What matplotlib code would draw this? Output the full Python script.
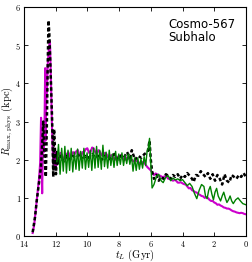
import numpy as np
import matplotlib
matplotlib.use("Agg")
import matplotlib.pyplot as plt

plt.rcParams['font.family'] = 'cmr10'
plt.rcParams['mathtext.fontset'] = 'cm'
plt.rcParams['axes.formatter.use_mathtext'] = True

# lookback time (Gyr) and R_max (kpc)
t_mag = [13.45, 13.35, 13.25, 13.15, 13.05, 12.98, 12.92, 12.88, 12.85, 12.80,
         12.75, 12.70, 12.66, 12.64, 12.60, 12.55, 12.50, 12.45, 12.40, 12.36,
         12.32, 12.28, 12.24, 12.20, 12.15, 12.10, 12.05, 12.00, 11.95, 11.90,
         11.80, 11.70, 11.60, 11.50, 11.40, 11.30, 11.20, 11.10, 11.00, 10.90,
         10.80, 10.70, 10.60, 10.50, 10.40, 10.30, 10.20, 10.10, 10.00, 9.90,
         9.80, 9.70, 9.60, 9.50, 9.40, 9.30, 9.20, 9.10, 9.00, 8.90,
         8.80, 8.70, 8.60, 8.50, 8.40, 8.30, 8.20, 8.10, 8.00, 7.90,
         7.80, 7.70, 7.60, 7.50, 7.40, 7.30, 7.20, 7.10, 7.00, 6.90,
         6.80, 6.70, 6.60, 6.50, 6.40, 6.30, 6.20, 6.10, 6.00, 5.90,
         5.80, 5.70, 5.60, 5.50, 5.40, 5.30, 5.20, 5.10, 5.00, 4.90,
         4.80, 4.70, 4.60, 4.50, 4.40, 4.30, 4.20, 4.10, 4.00, 3.90,
         3.80, 3.70, 3.60, 3.50, 3.40, 3.30, 3.20, 3.10, 3.00, 2.90,
         2.80, 2.70, 2.60, 2.50, 2.40, 2.30, 2.20, 2.10, 2.00, 1.90,
         1.80, 1.70, 1.60, 1.50, 1.40, 1.30, 1.20, 1.10, 1.00, 0.90,
         0.80, 0.70, 0.60, 0.50, 0.40, 0.30, 0.20, 0.10, 0.00]
r_mag = [0.08, 0.30, 0.70, 1.10, 1.50, 1.90, 3.10, 1.60, 1.12, 2.60,
         2.20, 3.00, 4.40, 2.50, 3.50, 3.80, 4.50, 4.80, 5.00, 5.10,
         4.50, 3.80, 3.00, 2.40, 1.90, 2.30, 1.75, 2.20, 1.85, 2.10,
         2.05, 2.18, 2.12, 2.02, 2.00, 2.15, 2.20, 2.08, 2.10, 2.20,
         2.15, 2.22, 2.25, 2.12, 2.10, 2.20, 2.20, 2.28, 2.30, 2.18,
         2.20, 2.32, 2.30, 2.20, 2.15, 2.25, 2.20, 2.12, 2.10, 2.18,
         2.15, 2.08, 2.05, 2.12, 2.10, 2.02, 2.00, 2.08, 2.05, 2.12,
         2.10, 2.00, 2.00, 2.06, 2.05, 1.98, 2.00, 1.96, 1.95, 1.98,
         1.95, 1.90, 1.90, 1.94, 1.92, 1.85, 1.80, 1.76, 1.72, 1.65,
         1.60, 1.64, 1.62, 1.58, 1.58, 1.55, 1.55, 1.57, 1.55, 1.50,
         1.50, 1.47, 1.45, 1.47, 1.45, 1.40, 1.40, 1.41, 1.38, 1.36,
         1.35, 1.30, 1.25, 1.26, 1.20, 1.18, 1.15, 1.14, 1.10, 1.08,
         1.05, 1.04, 1.00, 1.02, 1.00, 0.95, 0.92, 0.92, 0.88, 0.86,
         0.82, 0.83, 0.80, 0.78, 0.75, 0.74, 0.72, 0.72, 0.70, 0.67,
         0.65, 0.64, 0.62, 0.61, 0.60, 0.61, 0.60, 0.58, 0.57]

t_grn = [11.92, 11.82, 11.72, 11.62, 11.52, 11.42, 11.32, 11.22, 11.12, 11.02,
         10.92, 10.82, 10.72, 10.62, 10.52, 10.42, 10.32, 10.22, 10.12, 10.02,
         9.92, 9.82, 9.72, 9.62, 9.52, 9.42, 9.32, 9.22, 9.12, 9.02,
         8.92, 8.82, 8.72, 8.62, 8.52, 8.42, 8.32, 8.22, 8.12, 8.02,
         7.92, 7.82, 7.72, 7.62, 7.52, 7.42, 7.32, 7.22, 7.12, 7.02,
         6.92, 6.82, 6.72, 6.62, 6.52, 6.42, 6.32, 6.24, 6.16, 6.08,
         6.00, 5.92, 5.80, 5.65, 5.50, 5.35,
         5.22, 5.05, 4.90, 4.75, 4.60, 4.45, 4.30, 4.15, 4.00, 3.85,
         3.70, 3.55, 3.40, 3.25, 3.10, 2.95, 2.80, 2.65, 2.55, 2.45,
         2.35, 2.25, 2.15, 2.05, 1.95, 1.85, 1.75, 1.60, 1.50, 1.40,
         1.30, 1.20, 1.10, 1.00, 0.90, 0.80, 0.65, 0.50, 0.35, 0.20,
         0.00]
r_grn = [1.95, 2.40, 1.62, 2.30, 1.70, 2.35, 1.65, 2.25, 1.72, 2.30,
         1.68, 2.20, 1.75, 2.28, 1.72, 2.22, 1.78, 2.30, 1.75, 2.18,
         1.80, 2.25, 1.72, 2.30, 1.78, 2.35, 1.80, 2.25, 1.75, 2.38,
         1.82, 2.20, 1.78, 2.25, 1.85, 2.15, 1.80, 2.22, 1.85, 2.15,
         1.88, 2.18, 1.85, 2.12, 1.90, 2.15, 1.88, 2.10, 1.70, 2.05,
         1.72, 2.05, 1.75, 2.02, 1.78, 2.08, 1.85, 2.20, 2.30, 2.56,
         1.90, 1.26, 1.35, 1.55, 1.62, 1.45,
         1.40, 1.55, 1.58, 1.45, 1.52, 1.47, 1.50, 1.45, 1.48, 1.40,
         1.32, 1.38, 1.30, 1.12, 0.98, 1.20, 1.35, 1.30, 1.05, 0.98,
         1.20, 1.30, 1.10, 0.95, 1.15, 1.25, 1.05, 0.92, 1.05, 1.15,
         1.00, 0.88, 0.95, 1.05, 0.92, 0.85, 0.95, 1.00, 0.92, 0.85,
         0.82]

t_blk = [13.45, 13.30, 13.20, 13.05, 12.93, 12.85, 12.78, 12.72, 12.62, 12.56,
         12.50, 12.45, 12.40, 12.35, 12.28, 12.22, 12.18, 12.15, 12.10, 12.05,
         11.98, 11.92, 11.85, 11.70, 11.50, 11.30, 11.10, 10.90, 10.70, 10.50,
         10.30, 10.10, 9.90, 9.70, 9.50, 9.30, 9.10, 8.90, 8.70, 8.50,
         8.30, 8.10, 7.90, 7.70, 7.50, 7.30, 7.20, 7.00, 6.80, 6.60,
         6.40, 6.20, 6.08, 6.00, 5.92, 5.80, 5.65, 5.50, 5.35, 5.20,
         5.05, 4.90, 4.75, 4.60, 4.45, 4.30, 4.15, 4.00, 3.85, 3.70,
         3.55, 3.40, 3.30, 3.15, 3.00, 2.85, 2.70, 2.55, 2.40, 2.25,
         2.10, 1.95, 1.80, 1.65, 1.50, 1.35, 1.20, 1.05, 0.90, 0.75,
         0.60, 0.45, 0.30, 0.15, 0.00]
r_blk = [0.10, 0.50, 0.90, 1.40, 1.80, 2.40, 3.00, 2.20, 1.55, 2.80,
         4.50, 5.65, 5.30, 4.70, 3.80, 3.00, 2.20, 1.55, 2.80, 2.30,
         1.62, 2.20, 1.90, 2.10, 1.95, 2.10, 2.00, 2.10, 2.05, 2.15,
         2.00, 2.10, 2.05, 2.15, 2.05, 2.10, 2.00, 2.10, 2.00, 2.05,
         2.15, 2.00, 2.10, 2.05, 2.20, 2.05, 2.25, 2.00, 2.10, 2.05,
         2.15, 2.20, 2.50, 2.00, 1.70, 1.50, 1.60, 1.45, 1.55, 1.50,
         1.62, 1.58, 1.50, 1.60, 1.55, 1.62, 1.50, 1.60, 1.55, 1.65,
         1.58, 1.50, 1.42, 1.60, 1.58, 1.70, 1.62, 1.55, 1.65, 1.50,
         1.62, 1.45, 1.60, 1.50, 1.35, 1.62, 1.45, 1.40, 1.60, 1.55,
         1.50, 1.60, 1.55, 1.65, 1.55]

fig = plt.figure(figsize=(2.52, 2.62), dpi=100)
ax = fig.add_axes([0.095, 0.099, 0.881, 0.874])

ax.plot(t_mag, r_mag, color='#cc00cc', lw=1.5)
ax.plot(t_blk, r_blk, color='black', lw=1.8, ls=(0, (1.4, 1.0)))
ax.plot(t_grn, r_grn, color='#008000', lw=1.0)

ax.set_xlim(14, 0)
ax.set_ylim(0, 6)
ax.set_xticks([14, 12, 10, 8, 6, 4, 2, 0])
ax.set_yticks([0, 1, 2, 3, 4, 5, 6])
ax.tick_params(direction='in', top=True, right=True, length=3, width=0.6,
               labelsize=6, pad=2)
for s in ax.spines.values():
    s.set_linewidth(0.8)

ax.set_xlabel(r'$t_L$ (Gyr)', fontsize=7.5, labelpad=-1)
ax.set_ylabel(r'$R_{\rm max,\,phys}$ (kpc)', fontsize=7.5, labelpad=0)

ax.text(4.9, 5.72, 'Cosmo-567\nSubhalo', family='DejaVu Sans', fontsize=8.5,
        va='top', ha='left', linespacing=1.0)

fig.savefig('out.png', dpi=100)
